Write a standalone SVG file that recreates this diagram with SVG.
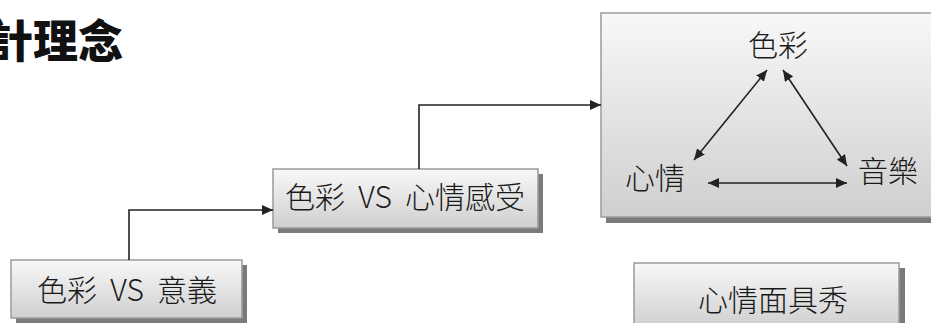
<svg xmlns="http://www.w3.org/2000/svg" width="931" height="323" viewBox="0 0 931 323">
  <style>
    .box { fill: url(#grad); stroke: #9a9a9a; stroke-width: 1.5; }
    .shadow { fill: #7a7a7a; }
    .label { font-family: "Noto Sans CJK TC", "Noto Sans", sans-serif; font-size: 30px; font-weight: 300; fill: #1a1a1a; text-anchor: middle; white-space: pre; }
    .title { font-family: "Noto Sans CJK TC", "Noto Sans", sans-serif; font-size: 45px; font-weight: 900; fill: #111; }
    .conn { fill: none; stroke: #222; stroke-width: 1.6; }
  </style>
  <defs>
    <linearGradient id="grad" x1="0" y1="0" x2="0" y2="1">
      <stop offset="0" stop-color="#f8f8f8"/>
      <stop offset="1" stop-color="#cfcfd0"/>
    </linearGradient>
    <marker id="arr" viewBox="0 0 11 10" refX="11" refY="5" markerWidth="11" markerHeight="10" markerUnits="userSpaceOnUse" orient="auto-start-reverse">
      <path d="M0,0 L11,5 L0,10 z" fill="#222"/>
    </marker>
  </defs>
  <rect width="931" height="323" fill="#ffffff"/>

  <text class="title" x="-12" y="58">計理念</text>

  <g id="node-meaning">
    <rect class="shadow" x="16" y="265" width="231" height="58"/>
    <rect class="box" x="11" y="260" width="231" height="58"/>
    <text class="label" x="127" y="301" xml:space="preserve">色彩  VS  意義</text>
  </g>

  <g id="node-feeling">
    <rect class="shadow" x="278" y="174" width="265" height="59"/>
    <rect class="box" x="273" y="169" width="265" height="59"/>
    <text class="label" x="405" y="208" xml:space="preserve">色彩  VS  心情感受</text>
  </g>

  <g id="node-triangle">
    <rect class="shadow" x="606" y="18" width="340" height="205"/>
    <rect class="box" x="601" y="13" width="340" height="204"/>
    <text class="label" x="778" y="56">色彩</text>
    <text class="label" x="655" y="189">心情</text>
    <text class="label" x="888" y="182">音樂</text>
  </g>

  <g id="node-mask">
    <rect class="shadow" x="639" y="268" width="266" height="60"/>
    <rect class="box" x="634" y="263" width="265" height="65"/>
    <text class="label" x="773" y="311">心情面具秀</text>
  </g>

  <g id="connectors">
    <path class="conn" d="M129,260 V210 H273" marker-end="url(#arr)"/>
    <path class="conn" d="M419,169 V105 H601" marker-end="url(#arr)"/>
    <path class="conn" d="M767,70 L694,160" marker-start="url(#arr)" marker-end="url(#arr)"/>
    <path class="conn" d="M783,70 L847,166" marker-start="url(#arr)" marker-end="url(#arr)"/>
    <path class="conn" d="M708,183 L847,183" marker-start="url(#arr)" marker-end="url(#arr)"/>
  </g>
</svg>
